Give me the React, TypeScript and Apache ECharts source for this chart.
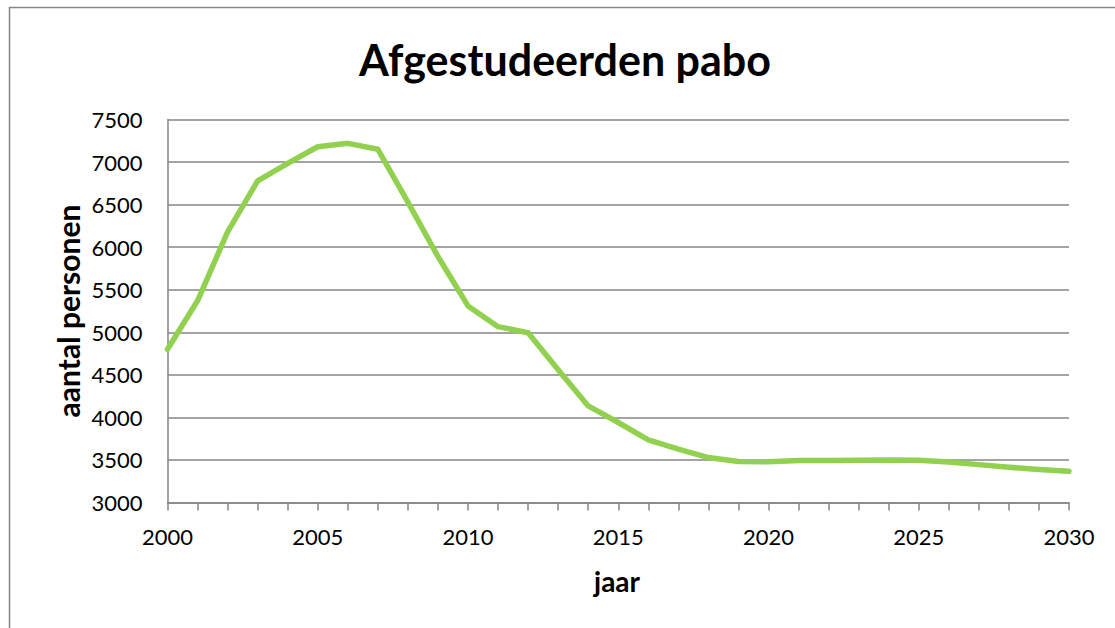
import React, { useEffect, useRef } from "react";
import * as echarts from "echarts";

const years = [2000, 2001, 2002, 2003, 2004, 2005, 2006, 2007, 2008, 2009, 2010, 2011, 2012, 2013, 2014, 2015, 2016, 2017, 2018, 2019, 2020, 2021, 2022, 2023, 2024, 2025, 2026, 2027, 2028, 2029, 2030];
const graduates = [4800, 5370, 6180, 6780, 6985, 7180, 7220, 7150, 6530, 5890, 5310, 5066, 4995, 4560, 4135, 3940, 3736, 3627, 3528, 3481, 3480, 3493, 3493, 3495, 3500, 3497, 3475, 3445, 3415, 3388, 3366];

const titleText = "Afgestudeerden pabo";
const xName = "jaar";
const yName = "aantal personen";

export default function App() {
  const ref = useRef<HTMLDivElement>(null);
  useEffect(() => {
    if (!ref.current) return;
    const chart = echarts.init(ref.current, undefined, { renderer: "svg" });
    const font = "Lato, 'Open Sans', sans-serif";
    chart.setOption({
      animation: false,
      backgroundColor: "#ffffff",
      textStyle: { fontFamily: font },
      graphic: [
        {
          type: "rect",
          shape: { x: 9.5, y: 7.5, width: 1200, height: 700 },
          style: { fill: "none", stroke: "#868686", lineWidth: 1.5 },
          silent: true,
        },
        {
          type: "text",
          x: 565,
          y: 59,
          style: {
            text: titleText,
            fontFamily: font,
            fontSize: 43,
            fontWeight: "bold",
            fill: "#000",
            align: "center",
            verticalAlign: "middle",
          },
        },
        {
          type: "text",
          x: 68,
          y: 311,
          rotation: Math.PI / 2,
          style: {
            text: yName,
            fontFamily: font,
            fontSize: 30,
            fontWeight: "bold",
            fill: "#000",
            align: "center",
            verticalAlign: "middle",
          },
        },
        {
          type: "text",
          x: 617,
          y: 581,
          style: {
            text: xName,
            fontFamily: font,
            fontSize: 28,
            fontWeight: "bold",
            fill: "#000",
            align: "center",
            verticalAlign: "middle",
          },
        },
      ],
      grid: { left: 167.5, right: 46, top: 119.5, bottom: 125.5, containLabel: false },
      xAxis: {
        type: "value",
        min: 2000,
        max: 2030,
        interval: 5,
        axisLine: { show: true, lineStyle: { color: "#868686", width: 1.5 } },
        axisTick: { show: true, length: 8, lineStyle: { color: "#868686", width: 1.5 } },
        minorTick: { show: true, splitNumber: 5, length: 8, lineStyle: { color: "#868686", width: 1.5 } },
        splitLine: { show: false },
        axisLabel: { fontFamily: font, fontSize: 22, color: "#000", margin: 23, formatter: (v: number) => String(v) },
      },
      yAxis: {
        type: "value",
        min: 3000,
        max: 7500,
        interval: 500,
        axisLine: { show: true, lineStyle: { color: "#868686", width: 1.5 } },
        axisTick: { show: false },
        splitLine: { show: true, lineStyle: { color: "#868686", width: 1.5 } },
        axisLabel: { fontFamily: font, fontSize: 22, color: "#000", margin: 25, formatter: (v: number) => String(v) },
      },
      series: [
        {
          type: "line",
          data: years.map((y, i) => [y, graduates[i]]),
          showSymbol: false,
          symbol: "none",
          lineStyle: { color: "#92D050", width: 5.5, cap: "round", join: "round" },
          clip: false,
        },
      ],
    });
    return () => chart.dispose();
  }, []);
  return <div ref={ref} style={{ position: "fixed", left: 0, top: 0, width: 1115, height: 628 }} />;
}
